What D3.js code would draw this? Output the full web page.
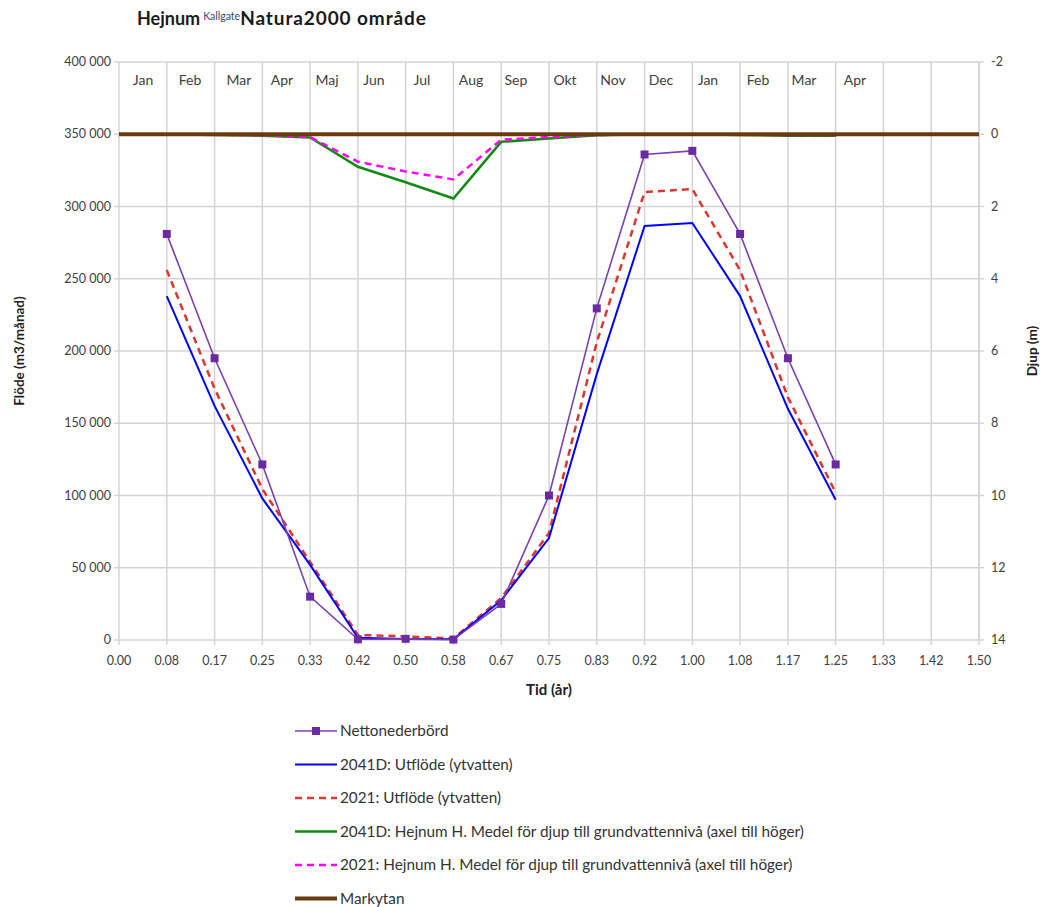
<!DOCTYPE html>
<html><head><meta charset="utf-8">
<script src="https://cdn.jsdelivr.net/npm/d3@7"></script>
<style>
body{margin:0;background:#fff;}
text{font-family:Lato,"Open Sans",sans-serif;}
</style></head>
<body><svg id="chart" width="1045" height="907"></svg>
<script>
// ---- data ----
const timeYears = [0.0833,0.1667,0.25,0.3333,0.4167,0.5,0.5833,0.6667,0.75,0.8333,0.9167,1.0,1.0833,1.1667,1.25];
const netto      = [281000,195000,121500,30000,500,800,300,25000,100000,229500,336000,338500,281000,195000,121500];
const utflode2041 = [238000,162000,98000,52000,1500,700,500,27500,70500,184000,286500,288600,238000,160000,97000];
const utflode2021 = [256000,174000,104500,54000,3500,2500,1000,29000,74000,206000,310000,312000,256000,168000,102000];
const djup2041   = [0.0,0.02,0.04,0.09,0.90,1.33,1.78,0.21,0.12,0.03,0.0,0.0,0.02,0.04,0.04];
const djup2021   = [0.0,0.01,0.03,0.08,0.76,1.03,1.25,0.15,0.08,0.02,0.0,0.0,0.01,0.02,0.02];
const markytanX  = [0.0,1.5];
const markytan   = [0,0];
const monthLabels = ["Jan","Feb","Mar","Apr","Maj","Jun","Jul","Aug","Sep","Okt","Nov","Dec","Jan","Feb","Mar","Apr"];
const monthX = [0.0419,0.1238,0.2093,0.2843,0.3628,0.4448,0.5285,0.6140,0.6924,0.7779,0.8616,0.9453,1.0273,1.1145,1.1948,1.2837];
const monthLabelY = 387500;
const xTickValues = [0,0.0833,0.1667,0.25,0.3333,0.4167,0.5,0.5833,0.6667,0.75,0.8333,0.9167,1.0,1.0833,1.1667,1.25,1.3333,1.4167,1.5];
const xTickLabels = ["0.00","0.08","0.17","0.25","0.33","0.42","0.50","0.58","0.67","0.75","0.83","0.92","1.00","1.08","1.17","1.25","1.33","1.42","1.50"];
const yLeftTicks = [0,50000,100000,150000,200000,250000,300000,350000,400000];
const yLeftLabels = ["0","50 000","100 000","150 000","200 000","250 000","300 000","350 000","400 000"];
const yRightTicks = [-2,0,2,4,6,8,10,12,14];
const yRightLabels = ["-2","0","2","4","6","8","10","12","14"];
const legendNames = ["Nettonederbörd","2041D: Utflöde (ytvatten)","2021: Utflöde (ytvatten)",
  "2041D: Hejnum H. Medel för djup till grundvattennivå (axel till höger)",
  "2021: Hejnum H. Medel för djup till grundvattennivå (axel till höger)","Markytan"];

// ---- layout ----
const L=119, R=979, T=62, B=640;
const svg = d3.select("#chart");
const x = d3.scaleLinear().domain([0,1.5]).range([L,R]);
const yL = d3.scaleLinear().domain([0,400000]).range([B,T]);
const yR = d3.scaleLinear().domain([-2,14]).range([T,B]);
const grid="#d4d4d4";

// gridlines
svg.append("g").selectAll("line").data(xTickValues).join("line")
  .attr("x1",d=>x(d)).attr("x2",d=>x(d)).attr("y1",T).attr("y2",B+5)
  .attr("stroke",grid).attr("stroke-width",1.5);
svg.append("g").selectAll("line").data(yLeftTicks).join("line")
  .attr("x1",L-5).attr("x2",R).attr("y1",d=>yL(d)).attr("y2",d=>yL(d))
  .attr("stroke",grid).attr("stroke-width",1.5);
// right axis line + ticks
svg.append("line").attr("x1",R).attr("x2",R).attr("y1",T).attr("y2",B).attr("stroke",grid).attr("stroke-width",1.5);
svg.append("g").selectAll("line").data(yRightTicks).join("line")
  .attr("x1",R).attr("x2",R+5).attr("y1",d=>yR(d)).attr("y2",d=>yR(d)).attr("stroke",grid).attr("stroke-width",1.5);

// tick labels
const tickFill="#404040";
svg.append("g").selectAll("text").data(yLeftTicks).join("text")
  .attr("x",L-8).attr("y",d=>yL(d)+4).attr("text-anchor","end")
  .attr("font-size",12.5).attr("fill",tickFill).text((d,i)=>yLeftLabels[i]);
svg.append("g").selectAll("text").data(yRightTicks).join("text")
  .attr("x",R+12).attr("y",d=>yR(d)+4).attr("text-anchor","start")
  .attr("font-size",12.5).attr("fill",tickFill).text((d,i)=>yRightLabels[i]);
svg.append("g").selectAll("text").data(xTickValues).join("text")
  .attr("x",d=>x(d)).attr("y",B+25).attr("text-anchor","middle")
  .attr("font-size",12.5).attr("fill",tickFill).text((d,i)=>xTickLabels[i]);

// month labels
svg.append("g").selectAll("text").data(monthLabels).join("text")
  .attr("x",(d,i)=>x(monthX[i])).attr("y",yL(monthLabelY)+5).attr("text-anchor","middle")
  .attr("font-size",14).attr("fill","#404040").text(d=>d);

// axis titles
svg.append("text").attr("transform",`translate(24,${(T+B)/2}) rotate(-90)`).attr("text-anchor","middle")
  .attr("font-size",13.5).attr("font-weight","bold").attr("fill","#222").text("Flöde (m3/månad)");
svg.append("text").attr("transform",`translate(1037,${(T+B)/2}) rotate(-90)`).attr("text-anchor","middle")
  .attr("font-size",13.5).attr("font-weight","bold").attr("fill","#222").text("Djup (m)");
svg.append("text").attr("x",549).attr("y",695).attr("text-anchor","middle")
  .attr("font-size",15).attr("font-weight","bold").attr("fill","#222").text("Tid (år)");

// title
const title = svg.append("text").attr("x",137).attr("y",25).attr("font-size",18).attr("font-weight","bold").attr("fill","#1a1a1a");
title.append("tspan").text("Hejnum");
title.append("tspan").attr("font-size",10.5).attr("font-weight","normal").attr("fill","#2b4a7a").attr("dy",-5).attr("dx",3).text("Kallgate");
title.append("tspan").attr("dy",5).attr("font-size",19).attr("letter-spacing",0.9).text("Natura2000 område");

// series
const lineL = d3.line().x((d,i)=>x(timeYears[i])).y(d=>yL(d));
const lineR = d3.line().x((d,i)=>x(timeYears[i])).y(d=>yR(d));
const series = [
  {name:legendNames[0], color:"#7a3fb0", width:1.6, dash:null, marker:true},
  {name:legendNames[1], color:"#0000ff", width:2, dash:null},
  {name:legendNames[2], color:"#e0342c", width:2.5, dash:"7,5"},
  {name:legendNames[3], color:"#118a11", width:2.5, dash:null},
  {name:legendNames[4], color:"#ff00ff", width:2.5, dash:"7,5"},
  {name:legendNames[5], color:"#6b3a10", width:4, dash:null}
];
svg.append("path").datum(djup2041).attr("d",lineR).attr("fill","none").attr("stroke",series[3].color).attr("stroke-width",series[3].width);
svg.append("path").datum(djup2021).attr("d",lineR).attr("fill","none").attr("stroke",series[4].color).attr("stroke-width",series[4].width).attr("stroke-dasharray",series[4].dash);
svg.append("path").datum(markytan).attr("d",d3.line().x((d,i)=>x(markytanX[i])).y(d=>yR(d)))
  .attr("fill","none").attr("stroke",series[5].color).attr("stroke-width",series[5].width);
svg.append("path").datum(utflode2021).attr("d",lineL).attr("fill","none").attr("stroke",series[2].color).attr("stroke-width",series[2].width).attr("stroke-dasharray",series[2].dash);
svg.append("path").datum(utflode2041).attr("d",lineL).attr("fill","none").attr("stroke",series[1].color).attr("stroke-width",series[1].width);
svg.append("path").datum(netto).attr("d",lineL).attr("fill","none").attr("stroke",series[0].color).attr("stroke-width",series[0].width);
svg.append("g").selectAll("rect").data(netto).join("rect")
  .attr("x",(d,i)=>x(timeYears[i])-4).attr("y",d=>yL(d)-4).attr("width",8).attr("height",8).attr("fill","#6a2aa0");

// legend
const lg = svg.append("g");
series.forEach((s,i)=>{
  const yy = 731 + i*33.5;
  lg.append("line").attr("x1",295).attr("x2",337).attr("y1",yy).attr("y2",yy)
    .attr("stroke",s.color).attr("stroke-width",s.width).attr("stroke-dasharray",s.dash);
  if(s.marker) lg.append("rect").attr("x",312).attr("y",yy-4).attr("width",8).attr("height",8).attr("fill","#6a2aa0");
  lg.append("text").attr("x",340).attr("y",yy+5).attr("font-size",15.3).attr("fill","#333").text(s.name);
});
</script></body></html>
